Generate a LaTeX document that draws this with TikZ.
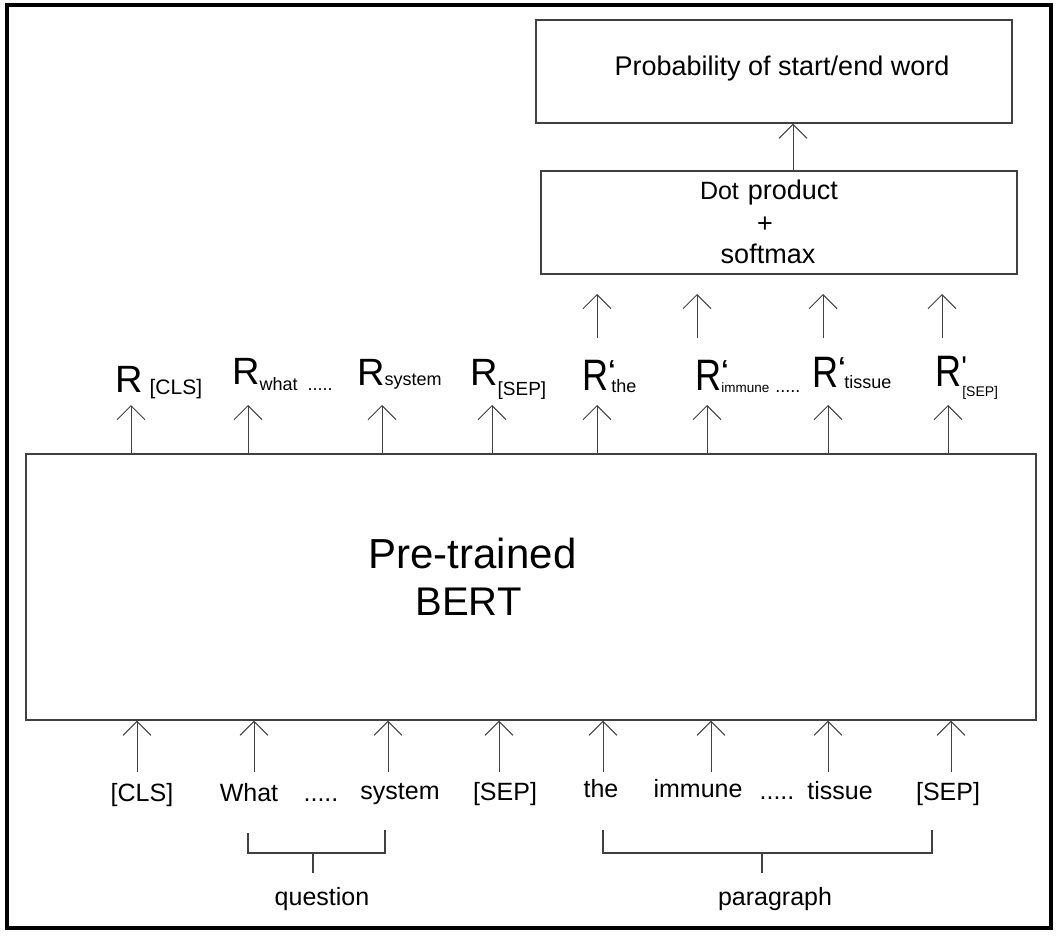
\documentclass[tikz,border=0pt]{standalone}
\usepackage{fontspec}
\setmainfont{Liberation Sans}
\usetikzlibrary{arrows.meta}
\newcommand\fs[1]{\fontsize{#1}{#1}\selectfont}
\newcommand\Rp{\scalebox{0.82}[1]{\fs{44}R}}
\newcommand\pr{\rlap{\raisebox{12pt}{\fs{26}\bfseries ‘}}}
\begin{document}
\begin{tikzpicture}[x=1pt,y=-1pt,
  box/.style={draw=black!75,line width=1.3pt,inner sep=0pt},
  txt/.style={inner sep=0pt,anchor=base,text=black},
  rl/.style={inner sep=0pt,anchor=base west,text=black},
  arr/.style={draw=black!75,line width=1pt,-{Straight Barb[length=14pt,width=28pt,line width=1pt]}},
  brk/.style={draw=black!75,line width=1.2pt}]
\useasboundingbox (0,0) rectangle (1059,936);
\draw[line width=4pt,black] (7,5.5) rectangle (1051,928);
% top boxes
\node[box,minimum width=476pt,minimum height=103pt] (prob) at (774,71.5) {};
\node[txt] (probt) at (782,76) {\fs{27}Probability of start/end word};
\node[box,minimum width=476pt,minimum height=103pt] (dot) at (779,222.5) {};
\node[txt] (dot1) at (769,200) {{\fs{25}Dot}\hspace{9pt}\fs{27}product};
\node[txt] (dot2) at (765,232) {\fs{27}+};
\node[txt] (dot3) at (768,263) {\fs{27}softmax};
\draw[arr] (dot.north -| 793,0) -- (prob.south -| 793,0);
% BERT box
\node[box,minimum width=1010pt,minimum height=266pt] (bert) at (531,587) {};
\node[txt] (pre) at (472.5,568) {\fs{42}Pre-trained};
\node[txt] (bt) at (468.5,615) {\fs{40}BERT};
% R labels
\node[rl] (r1) at (115,392) {\fs{38}R\raisebox{-2pt}{\hspace{7pt}\fs{21}[CLS]}};
\node[rl] (r2) at (232,384) {\fs{38}R\raisebox{-6pt}{\fs{18}what\hspace{10pt}.....}};
\node[rl] (r3) at (357,385) {\fs{38}R\raisebox{0pt}{\fs{18}system}};
\node[rl] (r4) at (470,385) {\fs{38}R\raisebox{-10pt}{\fs{19}[SEP]}};
\node[rl] (r5) at (582,390) {\Rp\pr\raisebox{-2pt}{\hspace{3pt}\fs{18}the}};
\node[rl] (r6) at (695,390) {\Rp\pr\raisebox{-2pt}{\fs{13.5}immune\hspace{6pt}\fs{18}.....}};
\node[rl] (r7) at (812,387) {\Rp\pr\raisebox{-1pt}{\hspace{6pt}\fs{18}tissue}};
\node[rl] (r8) at (935,386) {\Rp\rlap{\raisebox{9pt}{\fs{30}\textquotesingle}}\raisebox{-10pt}{\hspace{1pt}\fs{14}[SEP]}};
% arrows BERT -> R
\foreach \x in {131,248,382,492,597,707,828,948}
  \draw[arr] (bert.north -| \x,0) -- (\x,405);
% arrows R' -> dot
\foreach \x in {597,697,823,942}
  \draw[arr] (\x,338) -- (\x,294);
% bottom tokens
\node[txt] (w1) at (142,801) {\fs{25}[CLS]};
\node[txt] (w2) at (249,801) {\fs{25}What};
\node[txt] (w3) at (321,801) {\fs{25}.....};
\node[txt] (w4) at (400,799) {\fs{25}system};
\node[txt] (w5) at (505,800) {\fs{25}[SEP]};
\node[txt] (w6) at (601,797) {\fs{25}the};
\node[txt] (w7) at (698,797) {\fs{25}immune};
\node[txt] (w8) at (777,799) {\fs{25}.....};
\node[txt] (w9) at (840,799) {\fs{25}tissue};
\node[txt] (w10) at (948,800) {\fs{25}[SEP]};
% arrows tokens -> BERT
\foreach \x in {137,254,388,499,603,711,828,951}
  \draw[arr] (\x,772) -- (bert.south -| \x,0);
% brackets
\draw[brk] (248,833) -- (248,853) -- (385,853) -- (385,830);
\coordinate (qm) at (313,853);
\draw[brk] (qm) -- (313,873);
\node[txt] (q) at (322,905) {\fs{25}question};
\draw[brk] (603,830) -- (603,853) -- (932,853) -- (932,830);
\coordinate (pm) at (762,853);
\draw[brk] (pm) -- (762,873);
\node[txt] (p) at (775,905) {\fs{25}paragraph};
\end{tikzpicture}
\end{document}
